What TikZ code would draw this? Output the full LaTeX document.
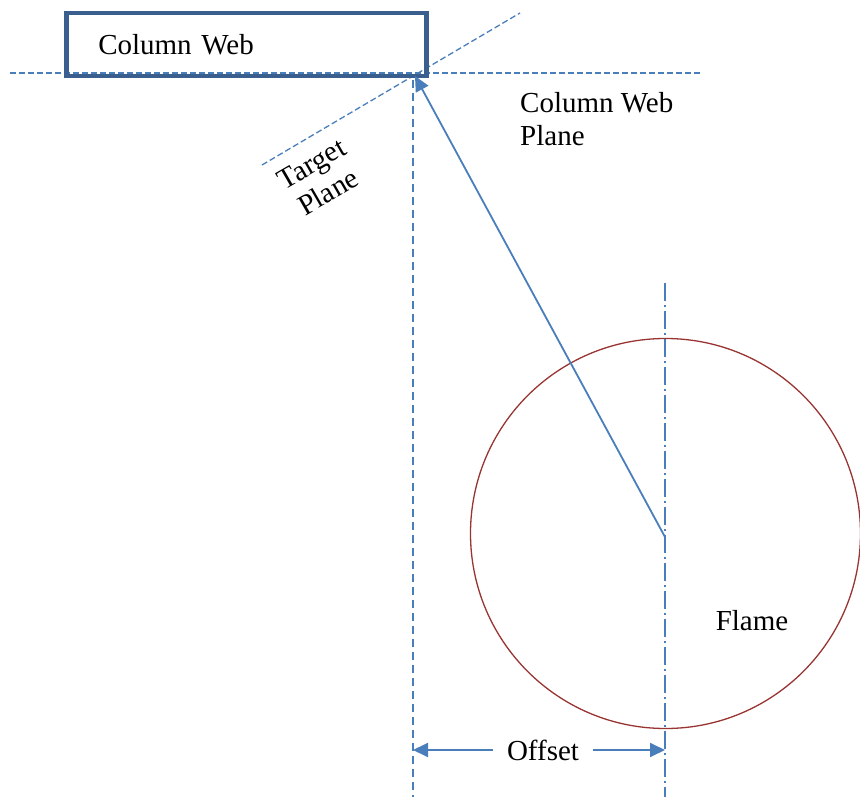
\documentclass[tikz,border=0pt]{standalone}
\usepackage{fontspec}
\setmainfont{Liberation Serif}
\usetikzlibrary{arrows.meta}
\definecolor{lineblue}{HTML}{4A7EBB}
\definecolor{webblue}{HTML}{3A5F8F}
\definecolor{flamered}{HTML}{983432}
\tikzset{
  lbl/.style={font=\fontsize{29}{33}\selectfont, inner sep=0pt},
  planeline/.style={draw=lineblue, line width=1.3pt, dash pattern=on 6pt off 3pt},
  refline/.style={draw=lineblue, line width=1.5pt, dash pattern=on 8pt off 5pt},
  axisline/.style={draw=lineblue, line width=1.5pt, dash pattern=on 18pt off 4pt on 2pt off 4pt},
  arr/.style={draw=lineblue, line width=1.8pt, -{Triangle[length=15pt,width=14pt]}},
}
\begin{document}
\begin{tikzpicture}[x=1pt,y=-1pt]
\useasboundingbox (0,0) rectangle (860,797);
% planes
\coordinate (hl) at (10,73);
\coordinate (hr) at (700,73);
\draw[planeline] (hl) -- (hr);
\coordinate (tl) at (262,165);
\coordinate (tr) at (520,13);
\draw[planeline] (tl) -- (tr);
% column web box
\node[lbl, draw=webblue, line width=4.5pt, anchor=north west, minimum height=63pt,
      text width=296pt, inner xsep=32pt, align=left] (web) at (64,11) {Column Web};
% vertical lines
\coordinate (vt) at (413,80);
\coordinate (vb) at (413,797);
\draw[refline] (vt) -- (vb);
\coordinate (at) at (665,283);
\coordinate (ab) at (665,797);
\draw[axisline] (at) -- (ab);
% flame circle
\node[circle, draw=flamered, line width=1.3pt, minimum size=390pt, inner sep=0pt] (circ) at (665.5,533.5) {};
\node[lbl] (flame) at (752,621) {Flame};
% sight arrow
\coordinate (src) at (665,537);
\coordinate (tgt) at (415,76);
\draw[arr] (src) -- (tgt);
% labels
\node[lbl, anchor=west, align=left] (cwp) at (520,119) {Column Web\\Plane};
\node[lbl, rotate=30, align=center] (tp) at (320,178) {Target\\Plane};
% offset dimension
\node[lbl, inner xsep=14pt] (off) at (543,750) {Offset};
\coordinate (ol) at (413,750);
\coordinate (or) at (665,750);
\draw[arr] (off.west) -- (ol);
\draw[arr] (off.east) -- (or);
\end{tikzpicture}
\end{document}
